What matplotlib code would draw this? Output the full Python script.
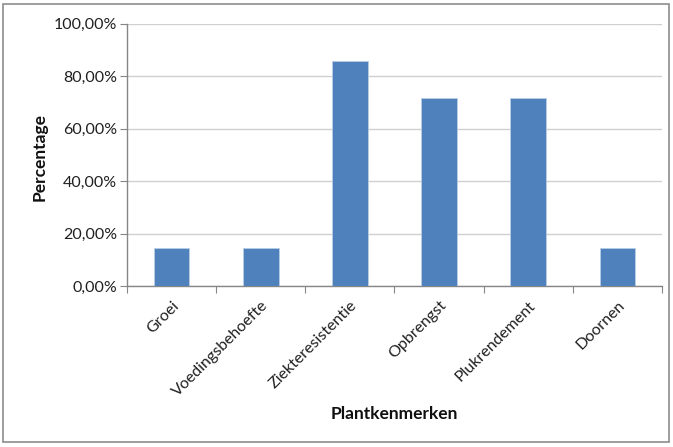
import matplotlib
matplotlib.use("Agg")
import matplotlib.pyplot as plt
from matplotlib.ticker import FuncFormatter, FixedLocator
from matplotlib.patches import Rectangle

categories = ["Groei", "Voedingsbehoefte", "Ziekteresistentie",
              "Opbrengst", "Plukrendement", "Doornen"]
values = [14.29, 14.29, 85.71, 71.43, 71.43, 14.29]
y_ticks = [0, 20, 40, 60, 80, 100]

plt.rcParams['font.family'] = ['Lato', 'DejaVu Sans']

fig = plt.figure(figsize=(6.73, 4.47), dpi=100)
ax = fig.add_axes([127 / 673, 1 - 286 / 447, (662 - 127) / 673, (286 - 23.5) / 447])

x = list(range(len(categories)))
ax.bar(x, values, width=0.4, color="#4F81BD", edgecolor="#B9CDE5", linewidth=0.6, zorder=3)

ax.set_xlim(-0.5, len(categories) - 0.5)
ax.set_ylim(0, 100)
ax.set_yticks(y_ticks)
ax.yaxis.set_major_formatter(FuncFormatter(lambda v, p: f"{v:.2f}%".replace(".", ",")))
ax.grid(axis="y", color="#D0D0D0", linewidth=1.0, zorder=0)

# category boundaries carry the ticks, labels sit at bar centres
ax.xaxis.set_major_locator(FixedLocator([i - 0.5 for i in range(len(categories) + 1)]))
ax.xaxis.set_major_formatter(FuncFormatter(lambda v, p: ""))
ax.xaxis.set_minor_locator(FixedLocator(x))
ax.set_xticklabels(categories, minor=True, rotation=45, ha="right",
                   rotation_mode="anchor", fontsize=11.5, color="#202020")
ax.tick_params(axis="x", which="minor", length=0, pad=9)
ax.tick_params(axis="x", which="major", length=5, color="#868686", direction="out")
ax.tick_params(axis="y", length=5, color="#868686", labelsize=11.5, labelcolor="#202020", pad=2)

for s in ["top", "right"]:
    ax.spines[s].set_visible(False)
for s in ["left", "bottom"]:
    ax.spines[s].set_color("#868686")
    ax.spines[s].set_linewidth(1.0)

fig.text(40 / 673, 1 - 157 / 447, "Percentage", rotation=90, ha="center", va="center",
         fontsize=12.5, fontweight="bold", color="#101010")
fig.text(394 / 673, 1 - 414 / 447, "Plantkenmerken", ha="center", va="center",
         fontsize=12.5, fontweight="bold", color="#101010")

fig.patches.append(Rectangle((3 / 673, 1 - 442 / 447), 666 / 673, 438 / 447,
                             transform=fig.transFigure, fill=False,
                             edgecolor="#8C8C8C", linewidth=1.2))

fig.savefig("out.png", dpi=100)
